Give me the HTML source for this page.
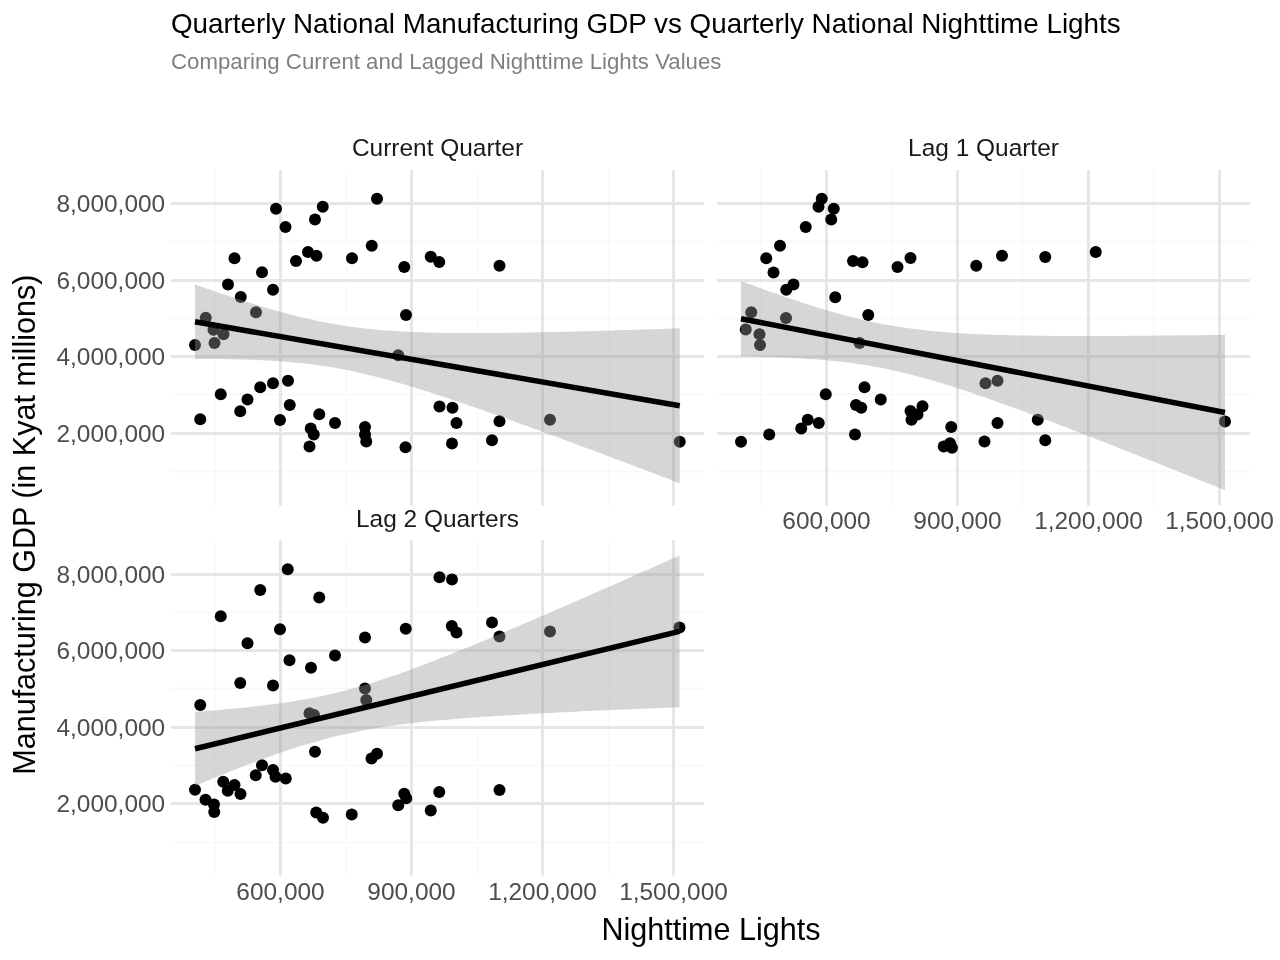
<!DOCTYPE html>
<html lang="en"><head><meta charset="utf-8"><title>Quarterly National Manufacturing GDP vs Quarterly National Nighttime Lights</title>
<style>html,body{margin:0;padding:0;background:#fff;}body{width:1280px;height:960px;overflow:hidden;}svg{display:block;}text{font-family:"Liberation Sans", sans-serif;}</style>
</head><body>
<svg width="1280" height="960" viewBox="0 0 1280 960">
<rect x="0" y="0" width="1280" height="960" fill="#ffffff"/>
<g>
<path d="M215.5 170V505.8M346.5 170V505.8M477.5 170V505.8M608.5 170V505.8M171 241.5H704M171 318.5H704M171 394.5H704M171 471.5H704" stroke="#f8f8f8" stroke-width="1.4" fill="none"/>
<path d="M280.5 170V505.8M411.5 170V505.8M542.5 170V505.8M673.5 170V505.8M171 203.5H704M171 280.5H704M171 356.5H704M171 433.5H704" stroke="#e6e6e6" stroke-width="3" fill="none"/>
<g fill="#000000">
<circle cx="377" cy="198.75" r="6"/>
<circle cx="276" cy="208.75" r="6"/>
<circle cx="322.75" cy="206.75" r="6"/>
<circle cx="315" cy="219.5" r="6"/>
<circle cx="285.5" cy="227" r="6"/>
<circle cx="371.75" cy="245.75" r="6"/>
<circle cx="234.5" cy="258.25" r="6"/>
<circle cx="308" cy="252" r="6"/>
<circle cx="316.5" cy="255.75" r="6"/>
<circle cx="296" cy="261" r="6"/>
<circle cx="352" cy="258.25" r="6"/>
<circle cx="430.75" cy="256.75" r="6"/>
<circle cx="439.25" cy="262" r="6"/>
<circle cx="404.25" cy="267" r="6"/>
<circle cx="499.5" cy="265.75" r="6"/>
<circle cx="262" cy="272.25" r="6"/>
<circle cx="228" cy="284.5" r="6"/>
<circle cx="273" cy="289.75" r="6"/>
<circle cx="240.75" cy="297" r="6"/>
<circle cx="256" cy="312.25" r="6"/>
<circle cx="406" cy="315" r="6"/>
<circle cx="205.75" cy="317.75" r="6"/>
<circle cx="213.5" cy="329.75" r="6"/>
<circle cx="223.5" cy="334.25" r="6"/>
<circle cx="214.5" cy="343" r="6"/>
<circle cx="195" cy="345" r="6"/>
<circle cx="398.25" cy="355.25" r="6"/>
<circle cx="288" cy="380.75" r="6"/>
<circle cx="273" cy="383.25" r="6"/>
<circle cx="260.25" cy="387.25" r="6"/>
<circle cx="220.75" cy="394.25" r="6"/>
<circle cx="247.5" cy="399.5" r="6"/>
<circle cx="289.75" cy="405" r="6"/>
<circle cx="240.25" cy="411.25" r="6"/>
<circle cx="200.25" cy="419.25" r="6"/>
<circle cx="280" cy="420" r="6"/>
<circle cx="319.25" cy="414.25" r="6"/>
<circle cx="335" cy="423" r="6"/>
<circle cx="310.75" cy="428.5" r="6"/>
<circle cx="313.75" cy="434.5" r="6"/>
<circle cx="309.5" cy="446.5" r="6"/>
<circle cx="365" cy="427" r="6"/>
<circle cx="365" cy="434.5" r="6"/>
<circle cx="366.25" cy="441.5" r="6"/>
<circle cx="405.5" cy="447.25" r="6"/>
<circle cx="439.5" cy="406.5" r="6"/>
<circle cx="452.5" cy="407.75" r="6"/>
<circle cx="456.5" cy="423" r="6"/>
<circle cx="452" cy="443.5" r="6"/>
<circle cx="499.5" cy="421.25" r="6"/>
<circle cx="492" cy="440.25" r="6"/>
<circle cx="550" cy="419.75" r="6"/>
<circle cx="679.75" cy="441.75" r="6"/>
</g>
<polygon points="195,284.54 201.14,286.66 207.27,288.77 213.41,290.87 219.54,292.94 225.68,294.98 231.82,297 237.95,299 244.09,300.96 250.22,302.9 256.36,304.79 262.5,306.65 268.63,308.46 274.77,310.22 280.91,311.94 287.04,313.6 293.18,315.2 299.31,316.74 305.45,318.21 311.59,319.61 317.72,320.93 323.86,322.18 329.99,323.35 336.13,324.44 342.27,325.45 348.4,326.38 354.54,327.23 360.67,328 366.81,328.7 372.95,329.34 379.08,329.9 385.22,330.41 391.35,330.85 397.49,331.25 403.63,331.59 409.76,331.89 415.9,332.15 422.03,332.36 428.17,332.55 434.31,332.7 440.44,332.82 446.58,332.92 452.72,332.99 458.85,333.04 464.99,333.07 471.12,333.08 477.26,333.07 483.4,333.05 489.53,333.01 495.67,332.96 501.8,332.9 507.94,332.82 514.08,332.74 520.21,332.65 526.35,332.54 532.48,332.43 538.62,332.32 544.76,332.19 550.89,332.06 557.03,331.92 563.16,331.78 569.3,331.63 575.44,331.48 581.57,331.32 587.71,331.15 593.84,330.99 599.98,330.82 606.12,330.64 612.25,330.46 618.39,330.28 624.53,330.1 630.66,329.91 636.8,329.72 642.93,329.53 649.07,329.33 655.21,329.14 661.34,328.94 667.48,328.74 673.61,328.53 679.75,328.33 679.75,483.25 673.61,480.92 667.48,478.58 661.34,476.26 655.21,473.93 649.07,471.61 642.93,469.28 636.8,466.97 630.66,464.65 624.53,462.33 618.39,460.02 612.25,457.72 606.12,455.41 599.98,453.11 593.84,450.81 587.71,448.52 581.57,446.23 575.44,443.94 569.3,441.66 563.16,439.39 557.03,437.11 550.89,434.85 544.76,432.59 538.62,430.34 532.48,428.09 526.35,425.86 520.21,423.63 514.08,421.41 507.94,419.2 501.8,417 495.67,414.81 489.53,412.63 483.4,410.47 477.26,408.32 471.12,406.18 464.99,404.07 458.85,401.97 452.72,399.89 446.58,397.83 440.44,395.8 434.31,393.8 428.17,391.82 422.03,389.88 415.9,387.97 409.76,386.1 403.63,384.27 397.49,382.49 391.35,380.75 385.22,379.07 379.08,377.45 372.95,375.89 366.81,374.4 360.67,372.97 354.54,371.62 348.4,370.35 342.27,369.15 336.13,368.03 329.99,366.99 323.86,366.03 317.72,365.15 311.59,364.35 305.45,363.62 299.31,362.97 293.18,362.38 287.04,361.85 280.91,361.38 274.77,360.97 268.63,360.61 262.5,360.3 256.36,360.03 250.22,359.79 244.09,359.6 237.95,359.44 231.82,359.3 225.68,359.2 219.54,359.12 213.41,359.06 207.27,359.03 201.14,359.01 195,359.01" fill="#999999" fill-opacity="0.4"/>
<line x1="195" y1="321.77" x2="679.75" y2="405.79" stroke="#000000" stroke-width="5.56"/>
<text x="437.5" y="155.6" font-size="24.44" fill="#1a1a1a" text-anchor="middle">Current Quarter</text>
<text x="165.2" y="211.9" font-size="24.44" fill="#4d4d4d" text-anchor="end">8,000,000</text>
<text x="165.2" y="288.9" font-size="24.44" fill="#4d4d4d" text-anchor="end">6,000,000</text>
<text x="165.2" y="364.9" font-size="24.44" fill="#4d4d4d" text-anchor="end">4,000,000</text>
<text x="165.2" y="441.9" font-size="24.44" fill="#4d4d4d" text-anchor="end">2,000,000</text>
</g>
<g>
<path d="M760.5 170V505.8M891.5 170V505.8M1022.5 170V505.8M1153.5 170V505.8M717 241.5H1250M717 318.5H1250M717 394.5H1250M717 471.5H1250" stroke="#f8f8f8" stroke-width="1.4" fill="none"/>
<path d="M826.5 170V505.8M957.5 170V505.8M1088.5 170V505.8M1219.5 170V505.8M717 203.5H1250M717 280.5H1250M717 356.5H1250M717 433.5H1250" stroke="#e6e6e6" stroke-width="3" fill="none"/>
<g fill="#000000">
<circle cx="821.75" cy="198.75" r="6"/>
<circle cx="818.5" cy="206.75" r="6"/>
<circle cx="833.75" cy="208.75" r="6"/>
<circle cx="831.25" cy="219.5" r="6"/>
<circle cx="805.75" cy="227" r="6"/>
<circle cx="780" cy="245.75" r="6"/>
<circle cx="766.25" cy="258.25" r="6"/>
<circle cx="853" cy="261" r="6"/>
<circle cx="862.5" cy="262.25" r="6"/>
<circle cx="910.5" cy="258" r="6"/>
<circle cx="897.5" cy="267" r="6"/>
<circle cx="976.25" cy="265.75" r="6"/>
<circle cx="1002" cy="255.75" r="6"/>
<circle cx="1045.25" cy="257" r="6"/>
<circle cx="1095.75" cy="252" r="6"/>
<circle cx="773.5" cy="272.5" r="6"/>
<circle cx="793.5" cy="284.5" r="6"/>
<circle cx="786.25" cy="289.75" r="6"/>
<circle cx="835.25" cy="297.25" r="6"/>
<circle cx="868.25" cy="315" r="6"/>
<circle cx="751.25" cy="312.25" r="6"/>
<circle cx="786" cy="318" r="6"/>
<circle cx="745.75" cy="329.5" r="6"/>
<circle cx="759.5" cy="334.25" r="6"/>
<circle cx="760" cy="345" r="6"/>
<circle cx="859.5" cy="343" r="6"/>
<circle cx="985.5" cy="383.25" r="6"/>
<circle cx="997.5" cy="380.75" r="6"/>
<circle cx="864.5" cy="387.25" r="6"/>
<circle cx="825.75" cy="394.25" r="6"/>
<circle cx="880.75" cy="399.5" r="6"/>
<circle cx="856" cy="405" r="6"/>
<circle cx="861.25" cy="407.75" r="6"/>
<circle cx="922.5" cy="406.25" r="6"/>
<circle cx="910.5" cy="411" r="6"/>
<circle cx="917.5" cy="414.5" r="6"/>
<circle cx="911.5" cy="419.75" r="6"/>
<circle cx="807.75" cy="419.75" r="6"/>
<circle cx="818.75" cy="423" r="6"/>
<circle cx="801.25" cy="428.5" r="6"/>
<circle cx="769.25" cy="434.5" r="6"/>
<circle cx="741" cy="441.75" r="6"/>
<circle cx="855" cy="434.5" r="6"/>
<circle cx="951.25" cy="427" r="6"/>
<circle cx="997.5" cy="423" r="6"/>
<circle cx="984.5" cy="441.5" r="6"/>
<circle cx="943.75" cy="446.5" r="6"/>
<circle cx="950" cy="443.25" r="6"/>
<circle cx="952" cy="447.75" r="6"/>
<circle cx="1037.75" cy="419.75" r="6"/>
<circle cx="1045.25" cy="440.25" r="6"/>
<circle cx="1225" cy="421.5" r="6"/>
</g>
<polygon points="741,281.06 747.13,283.31 753.25,285.55 759.38,287.77 765.51,289.97 771.63,292.14 777.76,294.29 783.89,296.41 790.01,298.5 796.14,300.56 802.27,302.58 808.39,304.56 814.52,306.5 820.65,308.39 826.77,310.24 832.9,312.02 839.03,313.75 845.15,315.42 851.28,317.02 857.41,318.55 863.53,320 869.66,321.38 875.78,322.68 881.91,323.9 888.04,325.04 894.16,326.11 900.29,327.09 906.42,328 912.54,328.83 918.67,329.6 924.8,330.3 930.92,330.93 937.05,331.51 943.18,332.04 949.3,332.51 955.43,332.94 961.56,333.32 967.68,333.67 973.81,333.98 979.94,334.26 986.06,334.51 992.19,334.74 998.32,334.93 1004.44,335.11 1010.57,335.26 1016.7,335.4 1022.82,335.52 1028.95,335.62 1035.08,335.71 1041.2,335.78 1047.33,335.84 1053.46,335.89 1059.58,335.93 1065.71,335.96 1071.84,335.98 1077.96,335.99 1084.09,336 1090.22,336 1096.34,335.99 1102.47,335.97 1108.59,335.95 1114.72,335.92 1120.85,335.89 1126.97,335.85 1133.1,335.81 1139.23,335.77 1145.35,335.72 1151.48,335.66 1157.61,335.61 1163.73,335.55 1169.86,335.48 1175.99,335.42 1182.11,335.35 1188.24,335.28 1194.37,335.2 1200.49,335.13 1206.62,335.05 1212.75,334.97 1218.87,334.88 1225,334.8 1225,490.23 1218.87,487.77 1212.75,485.31 1206.62,482.85 1200.49,480.4 1194.37,477.95 1188.24,475.5 1182.11,473.05 1175.99,470.6 1169.86,468.16 1163.73,465.72 1157.61,463.29 1151.48,460.86 1145.35,458.43 1139.23,456 1133.1,453.58 1126.97,451.16 1120.85,448.75 1114.72,446.34 1108.59,443.94 1102.47,441.54 1096.34,439.15 1090.22,436.76 1084.09,434.39 1077.96,432.01 1071.84,429.65 1065.71,427.3 1059.58,424.95 1053.46,422.61 1047.33,420.29 1041.2,417.97 1035.08,415.67 1028.95,413.38 1022.82,411.11 1016.7,408.85 1010.57,406.61 1004.44,404.39 998.32,402.19 992.19,400.01 986.06,397.86 979.94,395.73 973.81,393.64 967.68,391.57 961.56,389.54 955.43,387.55 949.3,385.61 943.18,383.71 937.05,381.85 930.92,380.06 924.8,378.32 918.67,376.64 912.54,375.03 906.42,373.49 900.29,372.02 894.16,370.63 888.04,369.32 881.91,368.08 875.78,366.93 869.66,365.85 863.53,364.85 857.41,363.93 851.28,363.09 845.15,362.31 839.03,361.6 832.9,360.95 826.77,360.36 820.65,359.83 814.52,359.35 808.39,358.91 802.27,358.52 796.14,358.16 790.01,357.85 783.89,357.56 777.76,357.31 771.63,357.08 765.51,356.88 759.38,356.7 753.25,356.54 747.13,356.4 741,356.28" fill="#999999" fill-opacity="0.4"/>
<line x1="741" y1="318.67" x2="1225" y2="412.51" stroke="#000000" stroke-width="5.56"/>
<text x="983.5" y="155.6" font-size="24.44" fill="#1a1a1a" text-anchor="middle">Lag 1 Quarter</text>
<text x="826.5" y="528.5" font-size="24.44" fill="#4d4d4d" text-anchor="middle">600,000</text>
<text x="957.5" y="528.5" font-size="24.44" fill="#4d4d4d" text-anchor="middle">900,000</text>
<text x="1088.5" y="528.5" font-size="24.44" fill="#4d4d4d" text-anchor="middle">1,200,000</text>
<text x="1219.5" y="528.5" font-size="24.44" fill="#4d4d4d" text-anchor="middle">1,500,000</text>
</g>
<g>
<path d="M215.5 540V875.6M346.5 540V875.6M477.5 540V875.6M608.5 540V875.6M171 612.5H704M171 688.5H704M171 765.5H704M171 842.5H704" stroke="#f8f8f8" stroke-width="1.4" fill="none"/>
<path d="M280.5 540V875.6M411.5 540V875.6M542.5 540V875.6M673.5 540V875.6M171 574.5H704M171 650.5H704M171 727.5H704M171 803.5H704" stroke="#e6e6e6" stroke-width="3" fill="none"/>
<g fill="#000000">
<circle cx="287.75" cy="569.25" r="6"/>
<circle cx="260.25" cy="590" r="6"/>
<circle cx="319.25" cy="597.5" r="6"/>
<circle cx="439.5" cy="577.25" r="6"/>
<circle cx="452" cy="579.5" r="6"/>
<circle cx="220.75" cy="616.25" r="6"/>
<circle cx="280" cy="629.25" r="6"/>
<circle cx="247.5" cy="643.25" r="6"/>
<circle cx="365" cy="637.5" r="6"/>
<circle cx="405.75" cy="628.75" r="6"/>
<circle cx="451.75" cy="626" r="6"/>
<circle cx="456.5" cy="632.5" r="6"/>
<circle cx="335" cy="655.5" r="6"/>
<circle cx="289.5" cy="660.25" r="6"/>
<circle cx="311" cy="667.75" r="6"/>
<circle cx="240.25" cy="683" r="6"/>
<circle cx="273" cy="685.5" r="6"/>
<circle cx="200.25" cy="705" r="6"/>
<circle cx="365" cy="688.5" r="6"/>
<circle cx="366.25" cy="700" r="6"/>
<circle cx="309.5" cy="713.25" r="6"/>
<circle cx="314" cy="715" r="6"/>
<circle cx="492" cy="622.5" r="6"/>
<circle cx="499.5" cy="636.5" r="6"/>
<circle cx="550" cy="631.5" r="6"/>
<circle cx="679.5" cy="627.5" r="6"/>
<circle cx="315" cy="751.75" r="6"/>
<circle cx="377" cy="753.75" r="6"/>
<circle cx="371.5" cy="758.5" r="6"/>
<circle cx="262" cy="765.25" r="6"/>
<circle cx="273" cy="770" r="6"/>
<circle cx="255.75" cy="775.25" r="6"/>
<circle cx="275.5" cy="776.75" r="6"/>
<circle cx="285.75" cy="778.5" r="6"/>
<circle cx="223.25" cy="781.75" r="6"/>
<circle cx="234.5" cy="785" r="6"/>
<circle cx="227.75" cy="790.75" r="6"/>
<circle cx="240.5" cy="794" r="6"/>
<circle cx="195" cy="789.75" r="6"/>
<circle cx="205.5" cy="799.75" r="6"/>
<circle cx="214" cy="804.5" r="6"/>
<circle cx="214.25" cy="812" r="6"/>
<circle cx="316.25" cy="812.5" r="6"/>
<circle cx="323" cy="817.75" r="6"/>
<circle cx="351.75" cy="814.5" r="6"/>
<circle cx="398.25" cy="805.25" r="6"/>
<circle cx="404.25" cy="793.75" r="6"/>
<circle cx="406.25" cy="798.25" r="6"/>
<circle cx="430.75" cy="810.5" r="6"/>
<circle cx="439.25" cy="792" r="6"/>
<circle cx="499.5" cy="790" r="6"/>
</g>
<polygon points="195,711.78 201.13,711.33 207.27,710.87 213.4,710.39 219.53,709.89 225.66,709.36 231.8,708.82 237.93,708.24 244.06,707.64 250.2,707 256.33,706.33 262.46,705.62 268.59,704.87 274.73,704.07 280.86,703.23 286.99,702.33 293.13,701.38 299.26,700.36 305.39,699.28 311.53,698.14 317.66,696.92 323.79,695.63 329.92,694.26 336.06,692.81 342.19,691.29 348.32,689.69 354.46,688.02 360.59,686.27 366.72,684.45 372.85,682.56 378.99,680.61 385.12,678.59 391.25,676.52 397.39,674.4 403.52,672.22 409.65,670 415.78,667.74 421.92,665.45 428.05,663.11 434.18,660.74 440.32,658.35 446.45,655.93 452.58,653.48 458.72,651.01 464.85,648.52 470.98,646.01 477.11,643.48 483.25,640.94 489.38,638.38 495.51,635.81 501.65,633.23 507.78,630.64 513.91,628.03 520.04,625.42 526.18,622.79 532.31,620.16 538.44,617.52 544.58,614.88 550.71,612.22 556.84,609.56 562.97,606.9 569.11,604.23 575.24,601.55 581.37,598.87 587.51,596.18 593.64,593.49 599.77,590.8 605.91,588.1 612.04,585.4 618.17,582.7 624.3,579.99 630.44,577.28 636.57,574.57 642.7,571.85 648.84,569.13 654.97,566.41 661.1,563.69 667.23,560.97 673.37,558.24 679.5,555.51 679.5,707.17 673.37,707.42 667.23,707.66 661.1,707.91 654.97,708.16 648.84,708.41 642.7,708.67 636.57,708.92 630.44,709.18 624.3,709.44 618.17,709.71 612.04,709.98 605.91,710.25 599.77,710.53 593.64,710.8 587.51,711.09 581.37,711.37 575.24,711.67 569.11,711.96 562.97,712.26 556.84,712.57 550.71,712.88 544.58,713.2 538.44,713.53 532.31,713.86 526.18,714.2 520.04,714.55 513.91,714.91 507.78,715.28 501.65,715.66 495.51,716.05 489.38,716.45 483.25,716.86 477.11,717.29 470.98,717.74 464.85,718.2 458.72,718.69 452.58,719.19 446.45,719.71 440.32,720.26 434.18,720.84 428.05,721.45 421.92,722.09 415.78,722.76 409.65,723.47 403.52,724.22 397.39,725.02 391.25,725.87 385.12,726.77 378.99,727.73 372.85,728.75 366.72,729.84 360.59,730.99 354.46,732.21 348.32,733.51 342.19,734.88 336.06,736.33 329.92,737.86 323.79,739.47 317.66,741.15 311.53,742.9 305.39,744.73 299.26,746.62 293.13,748.58 286.99,750.6 280.86,752.67 274.73,754.8 268.59,756.97 262.46,759.2 256.33,761.46 250.2,763.76 244.06,766.1 237.93,768.47 231.8,770.86 225.66,773.29 219.53,775.74 213.4,778.21 207.27,780.7 201.13,783.21 195,785.74" fill="#999999" fill-opacity="0.4"/>
<line x1="195" y1="748.76" x2="679.5" y2="631.34" stroke="#000000" stroke-width="5.56"/>
<text x="437.5" y="527.1" font-size="24.44" fill="#1a1a1a" text-anchor="middle">Lag 2 Quarters</text>
<text x="165.2" y="582.9" font-size="24.44" fill="#4d4d4d" text-anchor="end">8,000,000</text>
<text x="165.2" y="658.9" font-size="24.44" fill="#4d4d4d" text-anchor="end">6,000,000</text>
<text x="165.2" y="735.9" font-size="24.44" fill="#4d4d4d" text-anchor="end">4,000,000</text>
<text x="165.2" y="811.9" font-size="24.44" fill="#4d4d4d" text-anchor="end">2,000,000</text>
<text x="280.5" y="900" font-size="24.44" fill="#4d4d4d" text-anchor="middle">600,000</text>
<text x="411.5" y="900" font-size="24.44" fill="#4d4d4d" text-anchor="middle">900,000</text>
<text x="542.5" y="900" font-size="24.44" fill="#4d4d4d" text-anchor="middle">1,200,000</text>
<text x="673.5" y="900" font-size="24.44" fill="#4d4d4d" text-anchor="middle">1,500,000</text>
</g>
<text x="171" y="33" font-size="27.81" fill="#000000">Quarterly National Manufacturing GDP vs Quarterly National Nighttime Lights</text>
<text x="171" y="68.9" font-size="22.22" fill="#808080">Comparing Current and Lagged Nighttime Lights Values</text>
<text x="711" y="939.75" font-size="30.56" fill="#000000" text-anchor="middle">Nighttime Lights</text>
<text transform="translate(35 524.7) rotate(-90) scale(1 1.04)" font-size="30.56" fill="#000000" text-anchor="middle">Manufacturing GDP (in Kyat millions)</text>
</svg>
</body></html>
